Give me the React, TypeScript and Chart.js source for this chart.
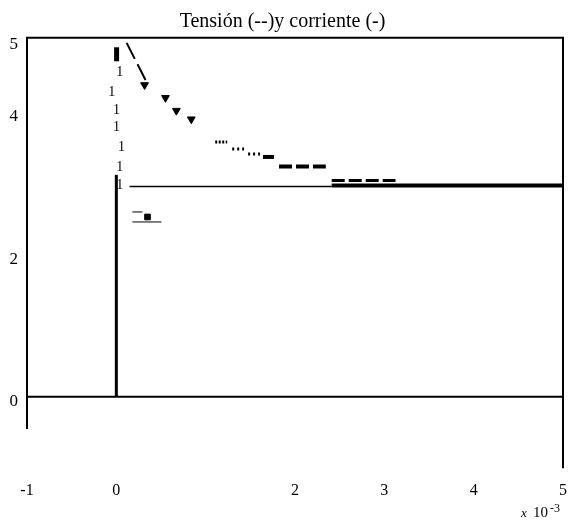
import React, { useEffect, useRef } from "react";
import { Chart, registerables } from "chart.js";

Chart.register(...registerables);

// Axis definitions (x in units of 10^-3)
const TITLE = "Tensión (--)y corriente (-)";
const X_TICKS = [-1, 0, 2, 3, 4, 5];
const Y_TICKS = [0, 2, 4, 5];
const X_MIN = -1;
const X_MAX = 5;
const Y_MIN = -0.9;
const Y_MAX = 5;
const FRAME_TOP = 5.03;
const LEFT_AXIS_END = -0.45;
const RIGHT_AXIS_END = -1.0;
const EXPONENT_LABEL = ["x", "10", "-3"];

// Current (solid)
const currentRise = [[0, 0], [0, 3.11]];
const currentThin = [[0.148, 2.948], [2.41, 2.948]];
const currentThick = [[2.41, 2.962], [5, 2.962]];

// Voltage (dashed) pieces
const voltageStart = [[0.115, 4.96], [0.327, 4.44]];
const voltageTriangles = [[0.316, 4.37], [0.55, 4.19], [0.672, 4.01], [0.839, 3.89]];
const voltageDots1 = [[1.107, 3.571], [1.241, 3.571]];
const voltageDots2 = [[1.297, 3.473], [1.43, 3.473]];
const voltageDots3 = [[1.475, 3.403], [1.609, 3.403]];
const voltageBlock = [[1.642, 3.361], [1.765, 3.361]];
const voltageDashes1 = [[1.821, 3.228], [2.345, 3.228]];
const voltageDashes2 = [[2.411, 3.032], [3.125, 3.032]];
const voltageTopMark = [[0.003, 4.8]];
const voltageRiseMarks = [
  [0.037, 4.54], [-0.052, 4.27], [0.003, 4.02], [0.003, 3.78],
  [0.059, 3.5], [0.037, 3.22], [0.037, 2.97],
];

// small artefact marker
const markerBlock = [[0.349, 2.52]];
const markerBase = [[0.18, 2.45], [0.505, 2.45]];
const markerTop = [[0.18, 2.59], [0.293, 2.59]];

const pts = (a: number[][]) => a.map(([x, y]) => ({ x, y }));

const line = (data: number[][], width: number, dash: number[] = []) => ({
  data: pts(data),
  showLine: true,
  borderColor: "#000",
  backgroundColor: "#000",
  borderWidth: width,
  borderDash: dash,
  borderCapStyle: "butt" as const,
  pointRadius: 0,
});

const framePlugin = {
  id: "frame",
  afterDraw(chart: any) {
    const { ctx, chartArea: a, scales } = chart;
    const x = scales.x;
    const y = scales.y;
    ctx.save();
    ctx.strokeStyle = "#000";
    ctx.lineWidth = 2;
    const top = y.getPixelForValue(FRAME_TOP);
    const y0 = y.getPixelForValue(0);
    ctx.beginPath();
    ctx.moveTo(a.left - 1, top);
    ctx.lineTo(a.right + 1, top);
    ctx.moveTo(a.left, top);
    ctx.lineTo(a.left, y.getPixelForValue(LEFT_AXIS_END));
    ctx.moveTo(a.right, top);
    ctx.lineTo(a.right, y.getPixelForValue(RIGHT_AXIS_END));
    ctx.moveTo(a.left, y0);
    ctx.lineTo(a.right, y0);
    ctx.stroke();

    // "1"-like marks along the voltage rise
    ctx.fillStyle = "#000";
    ctx.font = '14px "Liberation Serif"';
    ctx.textAlign = "center";
    ctx.textBaseline = "middle";
    voltageRiseMarks.forEach(([vx, vy]) => {
      ctx.fillText("1", x.getPixelForValue(vx), y.getPixelForValue(vy));
    });

    // exponent label
    ctx.textAlign = "left";
    ctx.textBaseline = "alphabetic";
    ctx.font = 'italic 13px "Liberation Serif"';
    ctx.fillText(EXPONENT_LABEL[0], 521, 517);
    ctx.font = '15px "Liberation Serif"';
    ctx.fillText(EXPONENT_LABEL[1], 533, 517);
    ctx.font = '12px "Liberation Serif"';
    ctx.fillText(EXPONENT_LABEL[2], 550, 512);
    ctx.restore();
  },
};

export default function App() {
  const ref = useRef<HTMLCanvasElement>(null);
  useEffect(() => {
    document.body.style.margin = "0";
    const canvas = ref.current!;
    const chart = new Chart(canvas, {
      type: "scatter",
      data: {
        datasets: [
          line(currentRise, 3),
          line(currentThin, 1.5),
          line(currentThick, 4),
          line(voltageStart, 2, [18, 6]),
          {
            data: pts(voltageTriangles),
            showLine: false,
            pointStyle: "triangle",
            rotation: 180,
            pointRadius: 4.5,
            borderColor: "#000",
            backgroundColor: "#000",
            borderWidth: 1,
          },
          line(voltageDots1, 3, [2, 1.5]),
          line(voltageDots2, 3, [2, 3]),
          line(voltageDots3, 3, [2, 3]),
          line(voltageBlock, 4),
          line(voltageDashes1, 4, [13, 4]),
          line(voltageDashes2, 3, [13, 4]),
          {
            data: pts(voltageTopMark),
            showLine: false,
            pointStyle: "line",
            rotation: 90,
            pointRadius: 7,
            borderColor: "#000",
            backgroundColor: "#000",
            borderWidth: 5,
          },
          {
            data: pts(markerBlock),
            showLine: false,
            pointStyle: "rect",
            pointRadius: 4,
            borderColor: "#000",
            backgroundColor: "#000",
            borderWidth: 1,
          },
          line(markerBase, 1),
          line(markerTop, 1),
        ] as any,
      },
      options: {
        animation: false,
        responsive: false,
        events: [],
        layout: { padding: { left: 0, right: 10, top: 0, bottom: 0 } },
        plugins: {
          legend: { display: false },
          tooltip: { enabled: false },
          title: {
            display: true,
            text: TITLE,
            color: "#000",
            font: { family: '"Liberation Serif"', size: 20, weight: "normal", lineHeight: 1.1 },
            padding: { top: 11, bottom: 7 },
          },
        },
        scales: {
          x: {
            type: "linear",
            min: X_MIN,
            max: X_MAX,
            grid: { display: false, drawTicks: false },
            border: { display: false },
            afterBuildTicks: (s: any) => {
              s.ticks = X_TICKS.map((v) => ({ value: v }));
            },
            afterFit: (s: any) => {
              s.height = 61;
              s.paddingLeft = 0;
              s.paddingRight = 0;
            },
            ticks: {
              autoSkip: false,
              maxRotation: 0,
              padding: 20,
              color: "#000",
              font: { family: '"Liberation Serif"', size: 16 },
            },
          },
          y: {
            type: "linear",
            min: Y_MIN,
            max: Y_MAX,
            grid: { display: false, drawTicks: false },
            border: { display: false },
            afterBuildTicks: (s: any) => {
              s.ticks = Y_TICKS.map((v) => ({ value: v }));
            },
            afterFit: (s: any) => {
              s.width = 27;
              s.paddingTop = 0;
              s.paddingBottom = 0;
            },
            ticks: {
              autoSkip: false,
              padding: 9,
              labelOffset: 5,
              color: "#000",
              font: { family: '"Liberation Serif"', size: 17 },
            },
          },
        },
      } as any,
      plugins: [framePlugin],
    });
    return () => chart.destroy();
  }, []);
  return <canvas ref={ref} width={575} height={522} style={{ display: "block" }} />;
}
